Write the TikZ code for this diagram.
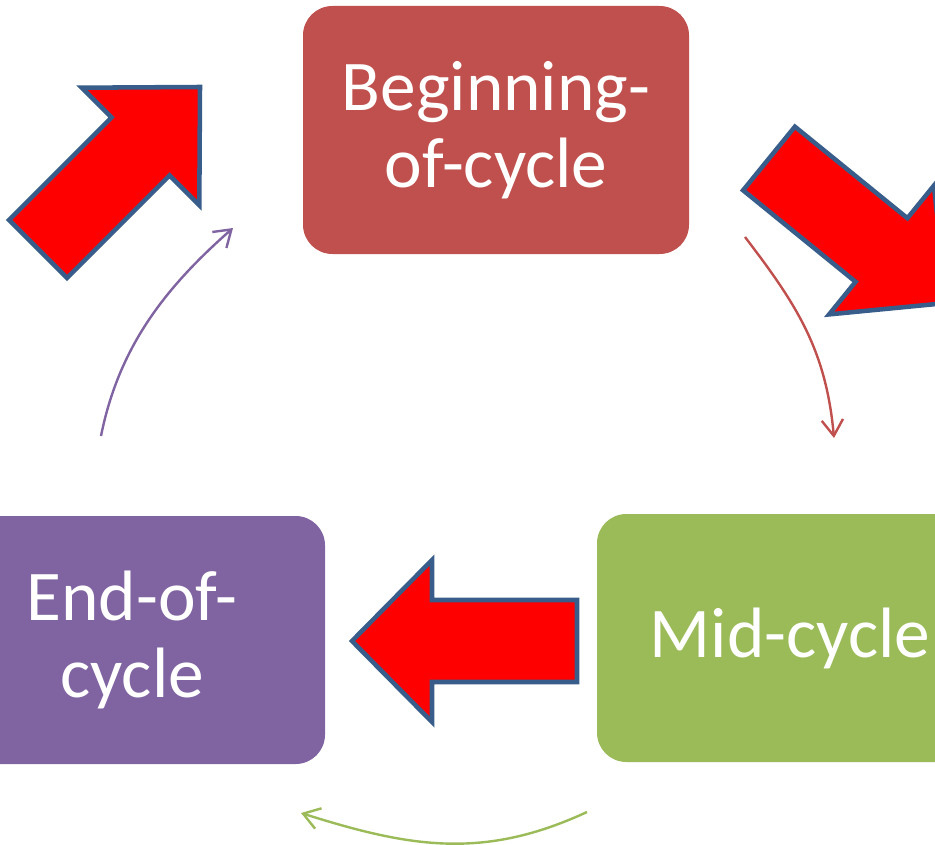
\documentclass[tikz,border=0pt]{standalone}
\usepackage{fontspec}
\setmainfont{Carlito}
\usetikzlibrary{arrows.meta}
\definecolor{cred}{HTML}{C0504D}
\definecolor{cgreen}{HTML}{9BBB59}
\definecolor{cpurple}{HTML}{8064A2}
\definecolor{cborder}{RGB}{56,93,138}
\tikzset{
  cyclebox/.style={rounded corners=22pt, minimum width=289.5pt, minimum height=186pt,
    inner sep=0pt, text=white, align=center, font=\fontsize{53.5}{58}\selectfont},
  blockarrow/.style={fill=red, draw=cborder, line width=3.4pt, line join=miter},
  cycarrow/.style={line width=1.8pt, -{Straight Barb[length=12pt,width=16pt]}},
}
\begin{document}
\begin{tikzpicture}[x=0.75pt,y=-0.75pt]
\useasboundingbox (0,0) rectangle (935,845);
\clip (0,0) rectangle (935,845);
% boxes
\node[cyclebox, fill=cred] (b) at (496,130) {Beginning-\\of-cycle};
\node[cyclebox, fill=cgreen] (m) at (790,638) {Mid-cycle};
\node[cyclebox, fill=cpurple] (e) at (132,640) {End-of-\\cycle};
% block arrows
\draw[blockarrow] (81.9,87.7) -- (200,87) -- (199.3,205.1) -- (169.6,175.4) -- (67.1,277.9)
  -- (9.1,219.9) -- (111.6,117.4) -- cycle;
\draw[blockarrow] (794.9,126.7) -- (907.4,218.2) -- (933.9,185.6) -- (946.7,303)
  -- (829.1,314.4) -- (855.6,281.8) -- (743.1,190.3) -- cycle;
\draw[blockarrow] (352,641) -- (432,560) -- (432,600) -- (577,600) -- (577,682)
  -- (432,682) -- (432,722) -- cycle;
% connector end points
\coordinate (r0) at (745,237);
\coordinate (r1) at (834,438);
\coordinate (g0) at (587,812);
\coordinate (g1) at (301,813);
\coordinate (p0) at (101,436);
\coordinate (p1) at (233,228);
% cycle connectors
\draw[cycarrow, cred] (r0) .. controls (797,305) and (826,350) .. (r1);
\draw[cycarrow, cgreen] (g0) .. controls (483.5,860) and (410,847.5) .. (g1);
\draw[cycarrow, cpurple] (p0) .. controls (119,346) and (166,287) .. (p1);
\end{tikzpicture}
\end{document}
